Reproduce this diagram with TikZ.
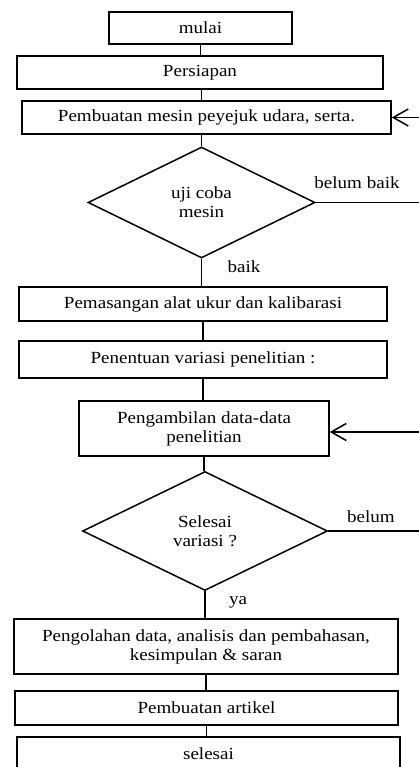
\documentclass[tikz,border=0pt]{standalone}
\usepackage{fontspec}
\setmainfont{Liberation Serif}[FakeStretch=1.12]
\usetikzlibrary{arrows.meta}
\usetikzlibrary{shapes.geometric}

\tikzset{
    box/.style={draw, rectangle, inner sep=0pt, align=center},
    decision/.style={draw, diamond, inner sep=0pt, align=center},
    backarrow/.style={-{Straight Barb[length=15pt, width=17pt, line width=1.5pt]}}
}

\begin{document}
\begin{tikzpicture}[x=1pt, y=-1pt, line width=1.5pt, font=\fontsize{17}{19}\selectfont]
    \useasboundingbox (0,0) rectangle (419,767);

    \node [box, minimum width=183, minimum height=32] (mulai) at (200.5,28) {mulai};
    \node [box, minimum width=366, minimum height=33] (persiapan) at (200,72.5) {Persiapan};
    \node [box, minimum width=369, minimum height=33] (pembuatan) at (206.5,117.5) {Pembuatan mesin peyejuk udara, serta.};
    \node [decision, minimum width=227, minimum height=111] (ujicoba) at (201.5,202.5) {uji coba\\mesin};

    \node [box, minimum width=368, minimum height=34] (pemasangan) at (203,304) {Pemasangan alat ukur dan kalibarasi};
    \node [box, minimum width=368, minimum height=37] (penentuan) at (203,359.5) {Penentuan variasi penelitian :};
    \node [box, minimum width=250, minimum height=55] (pengambilan) at (204,428.5) {Pengambilan data-data\\penelitian};
    \node [decision, minimum width=245, minimum height=119] (variasi) at (205,531) {Selesai\\variasi ?};

    \node [box, minimum width=384, minimum height=55] (pengolahan) at (206,646.5) {Pengolahan data, analisis dan pembahasan,\\kesimpulan \& saran};
    \node [box, minimum width=383, minimum height=34] (artikel) at (206.5,708) {Pembuatan artikel};
    \node [box, minimum width=383, minimum height=33] (selesai) at (208.5,753.5) {selesai};

    % labels of the branches
    \node (baik) at (244,267) {baik};
    \node (belumbaik) at (357,183) {belum baik};
    \node (ya) at (238,602) {ya};
    \node (belum) at (371,517) {belum};

    % main flow
    \draw (mulai.south) -- (mulai.south |- persiapan.north);
    \draw (ujicoba.north |- persiapan.south) -- (ujicoba.north |- pembuatan.north);
    \draw (ujicoba.north |- pembuatan.south) -- (ujicoba.north);
    \draw (ujicoba.south) -- (ujicoba.south |- pemasangan.north);
    \draw (pemasangan.south) -- (penentuan.north);
    \draw (penentuan.south) -- (penentuan.south |- pengambilan.north);
    \draw (pengambilan.south) -- (pengambilan.south |- variasi.north);
    \draw (variasi.south) -- (variasi.south |- pengolahan.north);
    \draw (pengolahan.south) -- (pengolahan.south |- artikel.north);
    \draw (artikel.south) -- (artikel.south |- selesai.north);

    % loops back, their vertical part lies past the right edge
    \coordinate (back) at (425,0);
    \draw [backarrow] (ujicoba.east) -- (ujicoba.east -| back) |- (pembuatan.east);
    \draw [backarrow] (variasi.east) -- (variasi.east -| back) |- ([yshift=-3.5]pengambilan.east);
\end{tikzpicture}
\end{document}
